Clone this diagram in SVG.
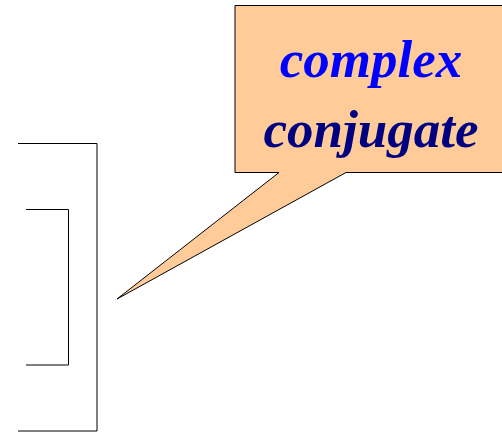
<svg xmlns="http://www.w3.org/2000/svg" width="502" height="435" viewBox="0 0 502 435">
<style>
.br{fill:none;stroke:#000;stroke-width:1}
.t{font-family:"Liberation Serif",serif;font-weight:bold;font-style:italic;font-size:53px;text-anchor:middle}
</style>
<rect width="502" height="435" fill="#fff"/>
<g id="outer-bracket"><polyline class="br" points="18,143.5 97,143.5 97,431 18,431"/></g>
<g id="inner-bracket"><polyline class="br" points="26,209.5 68.5,209.5 68.5,365 26,365"/></g>
<g id="callout">
<path d="M235,5.5 H504 V172.5 H346 L117,299 L279,172.5 H235 Z" fill="#ffcc99" stroke="#000" stroke-width="1" stroke-linejoin="miter"/>
<text class="t" x="371" y="77" fill="#0000ff">complex</text>
<text class="t" x="371" y="147" fill="#000080">conjugate</text>
</g>
</svg>
